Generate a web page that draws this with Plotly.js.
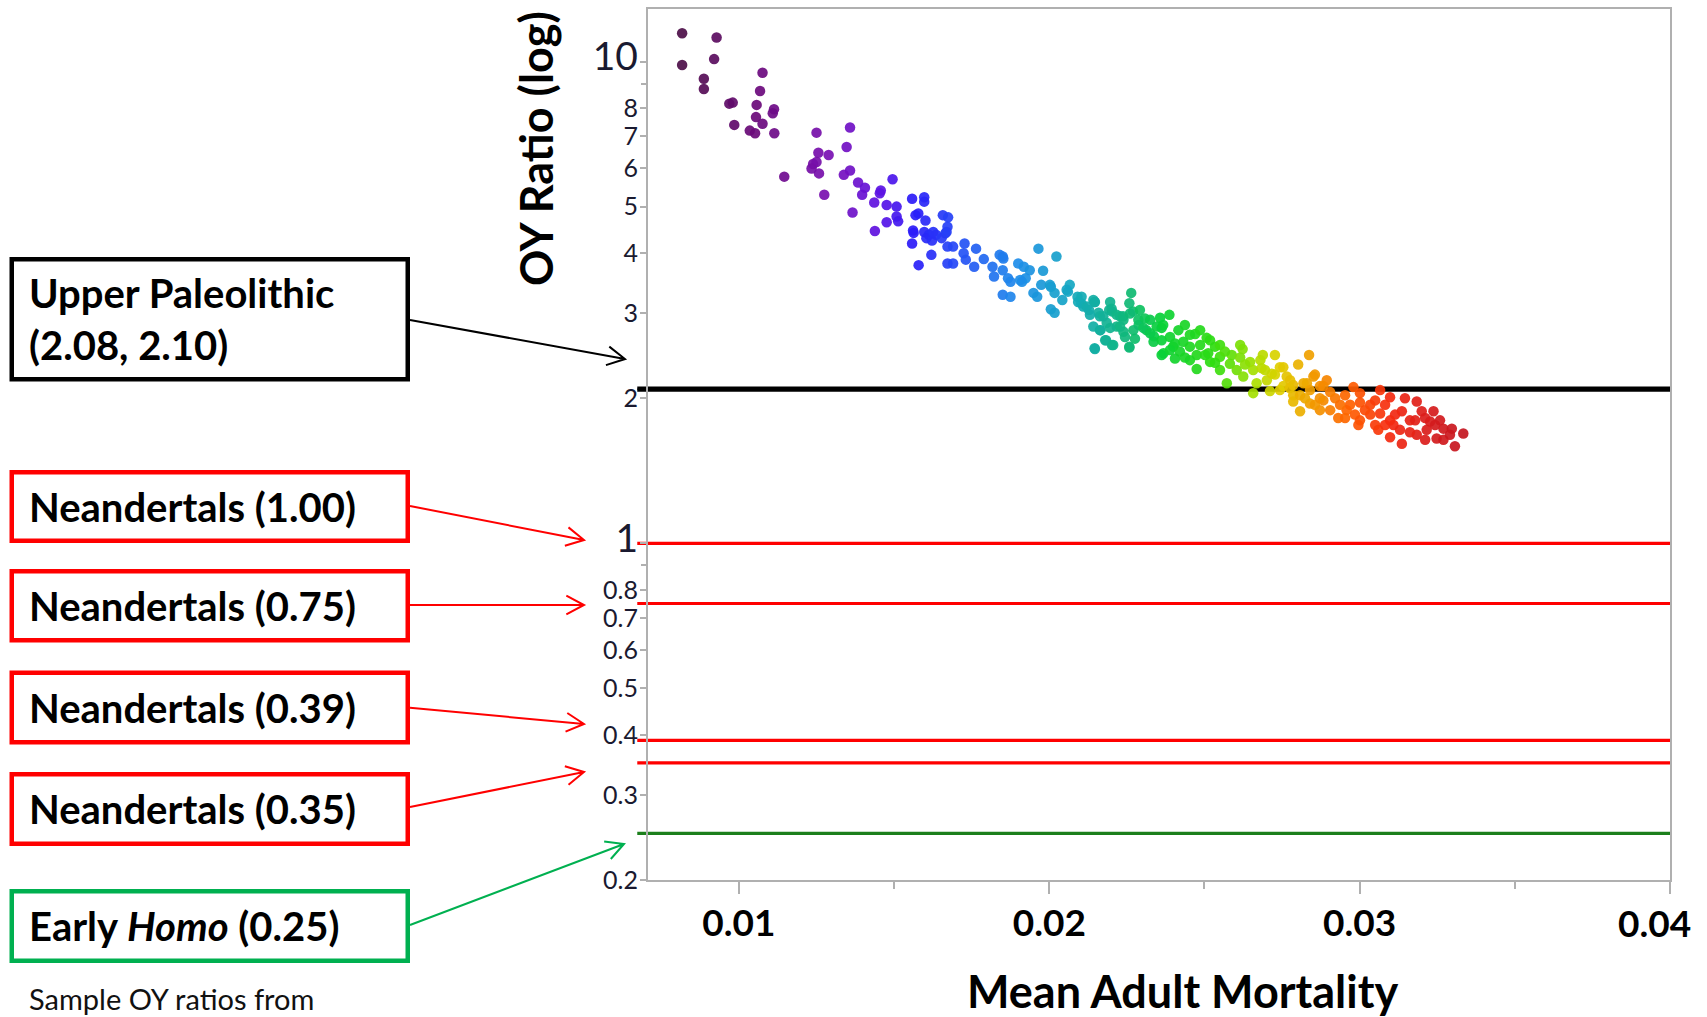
<!DOCTYPE html>
<html>
<head>
<meta charset="utf-8">
<script src="https://cdn.plot.ly/plotly-3.0.1.min.js"></script>
<style>
html,body{margin:0;padding:0;background:#fff;}
#chart{width:1707px;height:1017px;}
</style>
</head>
<body>
<div id="chart"></div>
<script>
// ---------------- DATA ----------------
// Mean adult mortality (x) and OY ratio (y) of simulated samples
const mortality = [
  0.00817,0.00817,0.00928,0.00920,0.00887,0.00887,0.00969,0.00980,0.00985,0.01076,
  0.01068,0.01057,0.01055,0.01076,0.01035,0.01052,0.01113,0.01109,0.01114,0.01146,
  0.01250,0.01256,0.01289,0.01239,0.01250,0.01258,0.01234,0.01275,0.01358,0.01347,
  0.01358,0.01338,0.01384,0.01406,0.01397,0.01366,0.01457,0.01454,0.01495,0.01436,
  0.01476,0.01508,0.01508,0.01476,0.01513,0.01438,0.01558,0.01597,0.01597,0.01569,
  0.01578,0.01561,0.01563,0.01558,0.01601,0.01597,0.01612,0.01604,0.01635,0.01622,
  0.01657,0.01674,0.01672,0.01665,0.01653,0.01579,0.01620,0.01672,0.01690,0.01672,
  0.01690,0.01727,0.01724,0.01731,0.01764,0.01758,0.01789,0.01817,0.01822,0.01840,
  0.01850,0.01850,0.01867,0.01875,0.01850,0.01875,0.01900,0.01918,0.01912,0.01937,
  0.01924,0.01965,0.02023,0.01980,0.01949,0.01961,0.01974,0.02005,0.02017,0.02005,
  0.02017,0.02066,0.02060,0.02042,0.02091,0.02103,0.02128,0.02146,0.02159,0.02196,
  0.02202,0.02165,0.02146,0.02183,0.02202,0.02239,0.02264,0.02258,0.02270,0.02239,
  0.02258,0.02288,0.02313,0.02337,0.02362,0.02387,0.02399,0.02368,0.01626,0.01669,
  0.01852,0.01906,0.02002,0.02056,0.02093,0.02110,0.02142,0.02193,0.02163,0.02228,
  0.02185,0.02217,0.02142,0.02104,0.02121,0.02147,0.02201,0.02174,0.02131,0.02217,
  0.02163,0.02196,0.02238,0.02260,0.02287,0.02308,0.02228,0.02271,0.02303,0.02180,
  0.02206,0.02147,0.02258,0.02244,0.02276,0.02325,0.02346,0.02367,0.02336,0.02362,
  0.02362,0.02389,0.02416,0.02405,0.02405,0.02432,0.02421,0.02470,0.02453,0.02507,
  0.02486,0.02475,0.02453,0.02475,0.02534,0.02512,0.02518,0.02550,0.02550,0.02572,
  0.02588,0.02582,0.02604,0.02623,0.02647,0.02625,0.02657,0.02688,0.02727,0.02684,
  0.02701,0.02668,0.02743,0.02727,0.02802,0.02837,0.02765,0.02786,0.02657,0.02711,
  0.02754,0.02786,0.02851,0.02830,0.02872,0.02894,0.02754,0.02717,0.02856,0.02776,
  0.02819,0.02883,0.02743,0.02786,0.02808,0.02840,0.02883,0.02872,0.02921,0.02980,
  0.02958,0.02931,0.03001,0.03066,0.03098,0.03146,0.03034,0.02996,0.03066,0.03060,
  0.03136,0.03184,0.03200,0.03162,0.03238,0.03227,0.03109,0.03098,0.03136,0.03184,
  0.03216,0.03248,0.03270,0.03297,0.03334,0.03307,0.03270,0.03034,0.02808,0.02840,
  0.02905,0.02937,0.02953,0.02969,0.03001,0.03017,0.03050,0.03082,0.03114,0.03179,
  0.03211,0.03243,0.03259,0.03291,0.03082,0.03130,0.03211,0.02953,0.02905,0.02856,
  0.02775,0.02824,0.02985,0.03098,0.03162,0.03001,0.03050,0.02872,0.02292,0.02325,
  0.02357,0.02437,0.02453,0.02486,0.02518,0.02550,0.02566,0.02615,0.02631,0.02680,
  0.02695,0.02615,0.02502,0.02534,0.02437,0.02389
];
const oyRatio = [
  11.45,9.84,11.22,10.12,9.21,8.77,8.18,8.22,7.39,9.48,
  8.69,8.13,7.67,7.43,7.19,7.10,7.96,7.81,7.10,5.77,
  7.12,6.47,6.40,6.13,6.19,5.86,6.00,5.29,7.30,6.65,
  5.94,5.82,5.61,5.47,5.29,4.86,5.40,5.33,5.70,5.10,
  5.04,5.00,4.77,4.64,4.66,4.45,5.19,5.23,5.12,4.80,
  4.84,4.46,4.41,4.19,4.68,4.43,4.37,4.30,4.37,4.25,
  4.80,4.75,4.54,4.40,4.30,3.78,3.97,4.13,4.13,3.81,
  3.81,4.19,4.00,3.88,4.09,3.75,3.89,3.75,3.58,3.97,
  3.94,3.69,3.55,3.49,3.28,3.25,3.81,3.75,3.49,3.69,
  3.55,4.09,3.94,3.68,3.31,3.25,3.44,3.41,3.31,3.06,
  3.01,3.44,3.33,3.20,3.25,3.15,3.05,3.17,3.01,3.17,
  3.03,2.77,2.54,2.64,2.58,2.91,3.31,3.15,3.03,2.75,
  2.56,2.84,2.77,2.69,2.80,2.98,2.56,2.48,4.43,4.43,
  3.90,3.52,3.44,3.36,3.17,3.10,3.20,3.05,2.96,2.96,
  2.87,2.82,2.82,3.25,3.10,3.17,3.07,2.96,2.98,2.98,
  2.77,2.80,2.96,3.00,2.91,2.93,2.82,2.77,2.80,2.64,
  2.58,2.53,2.55,2.68,2.66,2.73,2.82,2.84,2.62,2.64,
  2.46,2.68,2.77,2.60,2.42,2.62,2.50,2.72,2.56,2.67,
  2.58,2.46,2.40,2.30,2.56,2.48,2.38,2.44,2.29,2.15,
  2.46,2.36,2.29,2.53,2.38,2.22,2.29,2.46,2.46,2.31,
  2.18,2.15,2.32,2.24,2.35,2.46,2.22,2.13,2.05,2.07,
  2.12,2.03,2.22,2.15,2.12,2.18,2.32,2.25,2.24,2.18,
  2.15,2.12,2.08,1.97,1.88,1.95,1.98,1.89,2.00,2.11,
  1.89,1.82,2.05,2.08,2.01,2.00,1.94,1.76,1.86,1.72,
  1.88,1.97,1.88,1.80,1.88,1.79,1.76,1.66,1.61,1.68,
  1.72,1.65,1.73,1.73,1.69,1.59,1.64,1.85,2.03,2.08,
  2.06,1.94,2.03,1.94,1.96,1.89,1.98,1.94,1.85,1.80,
  1.82,1.76,1.80,1.68,1.76,1.72,1.64,1.82,1.89,1.94,
  2.10,2.00,1.85,1.80,1.70,1.80,1.76,2.00,3.05,2.91,
  2.94,2.84,2.71,2.77,2.64,2.58,2.50,2.43,2.35,2.40,
  2.29,2.58,2.46,2.37,2.43,2.52
];

// Reference OY ratios (horizontal lines) and their labels
const upperPaleolithic = [2.08, 2.10];
const neandertals = [1.00, 0.75, 0.39, 0.35];
const earlyHomo = [0.25];
const upperLabel = "Upper Paleolithic<br>(2.08, 2.10)";
const neandertalLabels = ["Neandertals (1.00)", "Neandertals (0.75)", "Neandertals (0.39)", "Neandertals (0.35)"];
const earlyHomoLabel = "Early <i>Homo</i> (0.25)";
const footnote = "Sample OY ratios from";

// Axis ticks
const xTickVals = [0.01, 0.02, 0.03, 0.04];
const xTickText = ["0.01", "0.02", "0.03", "0.04"];
const xMinorVals = [0.015, 0.025, 0.035];
const yTickVals = [0.2, 0.3, 0.4, 0.5, 0.6, 0.7, 0.8, 1, 2, 3, 4, 5, 6, 7, 8, 10];
const yTickText = ["0.2", "0.3", "0.4", "0.5", "0.6", "0.7", "0.8", "1", "2", "3", "4", "5", "6", "7", "8", "10"];
const yMinorVals = [0.9, 9];
const xTitle = "Mean Adult Mortality";
const yTitle = "OY Ratio (log)";

// ---------------- LAYOUT HELPERS ----------------
const W = 1707, H = 1017;
const M = {l: 648, r: 37, t: 9, b: 137};
const PW = W - M.l - M.r, PH = H - M.t - M.b;
const px = X => (X - M.l) / PW;
const py = Y => (H - M.b - Y) / PH;

const FONT = "Lato, 'Open Sans', sans-serif";
const RED = "#ff0000", BOXGREEN = "#00b050", LINEGREEN = "#1c7f1c";

const colorscale = [
  [0.00, "#4b0f45"], [0.10, "#6a0a7a"], [0.20, "#7a10b8"], [0.26, "#5a12e6"],
  [0.30, "#2a1cf8"], [0.36, "#2450f5"], [0.43, "#1e8cea"], [0.50, "#14a8c0"],
  [0.57, "#10b878"], [0.61, "#08d038"], [0.68, "#30dc10"], [0.73, "#a8e000"],
  [0.76, "#e0d000"], [0.80, "#f0a000"], [0.85, "#ff6000"], [0.90, "#f52a10"],
  [0.95, "#d81c1c"], [1.00, "#c01520"]
];

const shapes = [];
// reference lines
function refLine(v, color, width) {
  shapes.push({type: "line", xref: "paper", yref: "y", x0: -0.0105, x1: 1, y0: v, y1: v,
               layer: "below", line: {color: color, width: width}});
}
upperPaleolithic.forEach(v => refLine(v, "#000000", 3.4));
neandertals.forEach(v => refLine(v, RED, 3.2));
earlyHomo.forEach(v => refLine(v, LINEGREEN, 3.2));

// label boxes (pixel outer edges)
const annotations = [];
function box(x0, y0, x1, y1, color, lw) {
  const h = lw / 2;
  shapes.push({type: "rect", xref: "paper", yref: "paper",
    x0: px(x0 + h), x1: px(x1 - h), y0: py(y1 - h), y1: py(y0 + h),
    line: {color: color, width: lw}, fillcolor: "rgba(0,0,0,0)"});
}
function label(text, X, Y, size) {
  annotations.push({text: text, xref: "paper", yref: "paper", x: px(X), y: py(Y),
    xanchor: "left", yanchor: "middle", showarrow: false, align: "left",
    font: {family: FONT, size: size, color: "#000", weight: "bold"}});
}
function arrow(x0, y0, x1, y1, color) {
  const ang = Math.atan2(y1 - y0, x1 - x0);
  const L = 20, a = 28 * Math.PI / 180;
  const h1x = x1 - L * Math.cos(ang - a), h1y = y1 - L * Math.sin(ang - a);
  const h2x = x1 - L * Math.cos(ang + a), h2y = y1 - L * Math.sin(ang + a);
  const P = (X, Y) => px(X) + "," + py(Y);
  shapes.push({type: "path", xref: "paper", yref: "paper",
    path: "M" + P(x0, y0) + " L" + P(x1, y1) + " M" + P(h1x, h1y) + " L" + P(x1, y1) + " L" + P(h2x, h2y),
    line: {color: color, width: 2}});
}

box(9.5, 257, 410, 381.5, "#000", 4.5);
label(upperLabel, 27, 319, 40);
arrow(410, 320, 625, 359, "#000");

const nBoxes = [[470, 543, 507, 506, 540], [569, 642.5, 606, 605, 605], [670.5, 744.5, 708, 707.7, 724], [772, 846, 809, 807, 772]];
nBoxes.forEach((b, i) => {
  box(9.5, b[0], 410, b[1], RED, 4.5);
  label(neandertalLabels[i], 27, b[2], 40);
  arrow(410, b[3], 584, b[4], RED);
});

box(9.5, 889, 410, 963, BOXGREEN, 4.5);
label(earlyHomoLabel, 27, 926.5, 40);
arrow(410, 925, 624, 844, BOXGREEN);

annotations.push({text: footnote, xref: "paper", yref: "paper", x: px(27), y: py(999),
  xanchor: "left", yanchor: "middle", showarrow: false,
  font: {family: FONT, size: 29, color: "#111"}});
annotations.push({text: yTitle, xref: "paper", yref: "paper", x: px(536), y: py(149),
  xanchor: "center", yanchor: "middle", showarrow: false, textangle: -90,
  font: {family: FONT, size: 45, color: "#000", weight: "bold"}});
annotations.push({text: xTitle, xref: "paper", yref: "paper", x: px(1182), y: py(991),
  xanchor: "center", yanchor: "middle", showarrow: false,
  font: {family: FONT, size: 45, color: "#000", weight: "bold"}});

// last x tick label sits slightly left of its tick in the original (drawn as annotation)
const lastIdx = xTickText.length - 1;
const xAxisText = xTickText.map((t, i) => i === lastIdx ? "" : t);
annotations.push({text: xTickText[lastIdx], xref: "x", yref: "paper", x: xTickVals[lastIdx], xshift: -16,
  y: py(922), xanchor: "center", yanchor: "middle", showarrow: false,
  font: {family: FONT, size: 37, color: "#000", weight: "bold"}});

const yText = yTickText.map(t => (t === "1" || t === "10") ? '<span style="font-size:39px">' + t + '</span>' : t);

const trace = {
  type: "scatter", mode: "markers", x: mortality, y: oyRatio,
  marker: {size: 10.5, color: mortality, colorscale: colorscale, cmin: 0.008, cmax: 0.0335,
           showscale: false, opacity: 0.92, line: {width: 0}},
  hoverinfo: "x+y", showlegend: false
};

const layout = {
  width: W, height: H,
  margin: M,
  paper_bgcolor: "#fff", plot_bgcolor: "#fff",
  showlegend: false,
  xaxis: {
    range: [0.00707, 0.04], showgrid: false, zeroline: false,
    showline: true, linecolor: "#b0b0b0", linewidth: 2, mirror: true,
    tickmode: "array", tickvals: xTickVals, ticktext: xAxisText,
    ticks: "outside", ticklen: 12, tickwidth: 2, tickcolor: "#b0b0b0",
    ticklabelstandoff: -2,
    tickfont: {family: FONT, size: 37, color: "#000", weight: "bold"},
    minor: {tickvals: xMinorVals, ticks: "outside", ticklen: 7, tickwidth: 2, tickcolor: "#b0b0b0", showgrid: false}
  },
  yaxis: {
    type: "log", range: [Math.log10(0.2), 1.1092], showgrid: false, zeroline: false,
    showline: true, linecolor: "#b0b0b0", linewidth: 2, mirror: true,
    tickmode: "array", tickvals: yTickVals, ticktext: yText,
    ticks: "outside", ticklen: 6, tickwidth: 2, tickcolor: "#b0b0b0",
    ticklabelstandoff: -3,
    tickfont: {family: FONT, size: 25, color: "#1a1a30"},
    minor: {tickvals: yMinorVals, ticks: "outside", ticklen: 5, tickwidth: 2, tickcolor: "#b0b0b0", showgrid: false}
  },
  shapes: shapes,
  annotations: annotations
};

Plotly.newPlot("chart", [trace], layout, {displayModeBar: false, responsive: false});
</script>
</body>
</html>
